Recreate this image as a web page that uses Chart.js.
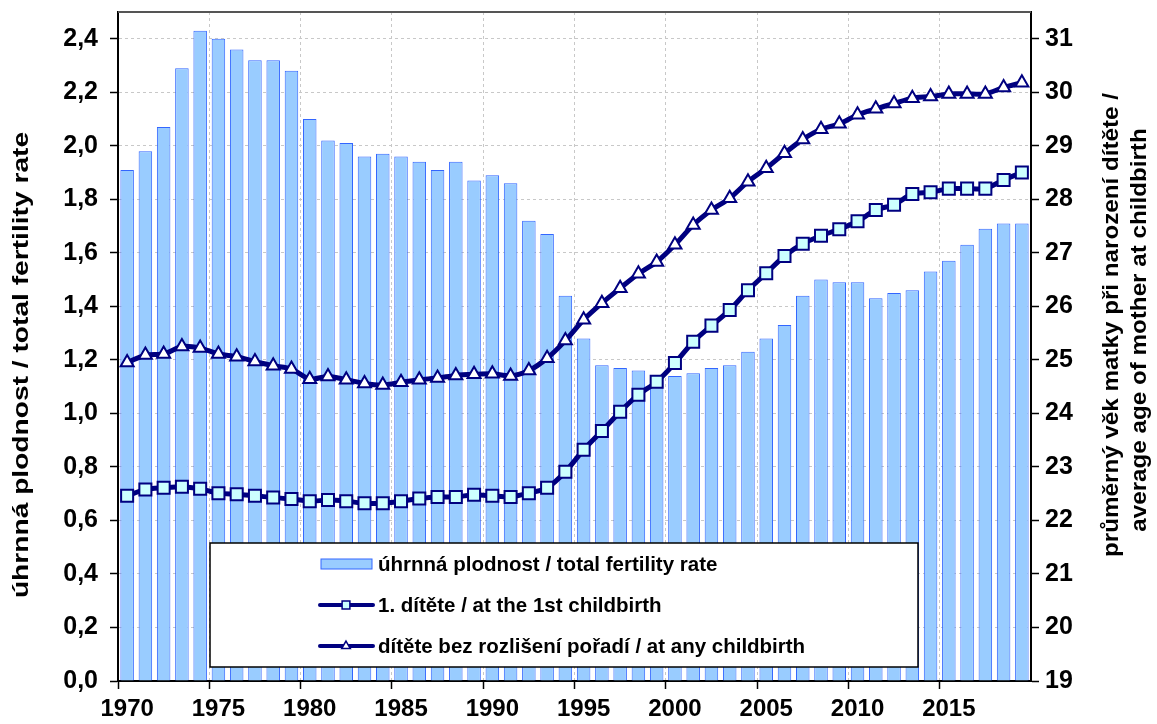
<!DOCTYPE html>
<html>
<head>
<meta charset="utf-8">
<script src="https://cdn.jsdelivr.net/npm/chart.js@4"></script>
<style>
  body { margin: 0; background: #fff; }
  #wrap { width: 1157px; height: 724px; }
</style>
</head>
<body>
<div id="wrap"><canvas id="myChart" width="1157" height="724"></canvas></div>
<script>
const years = ['1970','1971','1972','1973','1974','1975','1976','1977','1978','1979',
  '1980','1981','1982','1983','1984','1985','1986','1987','1988','1989',
  '1990','1991','1992','1993','1994','1995','1996','1997','1998','1999',
  '2000','2001','2002','2003','2004','2005','2006','2007','2008','2009',
  '2010','2011','2012','2013','2014','2015','2016','2017','2018','2019'];

// úhrnná plodnost / total fertility rate
const tfr = [1.91, 1.98, 2.07, 2.29, 2.43, 2.40, 2.36, 2.32, 2.32, 2.28,
  2.10, 2.02, 2.01, 1.96, 1.97, 1.96, 1.94, 1.91, 1.94, 1.87,
  1.89, 1.86, 1.72, 1.67, 1.44, 1.28, 1.18, 1.17, 1.16, 1.13,
  1.14, 1.15, 1.17, 1.18, 1.23, 1.28, 1.33, 1.44, 1.50, 1.49,
  1.49, 1.43, 1.45, 1.46, 1.53, 1.57, 1.63, 1.69, 1.71, 1.71];

// průměrný věk matky při narození 1. dítěte
const ageFirst = [22.46, 22.58, 22.61, 22.63, 22.59, 22.51, 22.49, 22.46, 22.43, 22.40,
  22.36, 22.38, 22.36, 22.32, 22.32, 22.36, 22.41, 22.44, 22.44, 22.48,
  22.46, 22.44, 22.51, 22.61, 22.91, 23.32, 23.67, 24.03, 24.35, 24.59,
  24.94, 25.34, 25.64, 25.93, 26.30, 26.62, 26.94, 27.17, 27.32, 27.44,
  27.59, 27.80, 27.90, 28.10, 28.13, 28.20, 28.20, 28.20, 28.36, 28.50];

// průměrný věk matky při narození dítěte bez rozlišení pořadí
const ageAny = [24.95, 25.09, 25.11, 25.25, 25.22, 25.11, 25.06, 24.97, 24.89, 24.83,
  24.64, 24.69, 24.63, 24.56, 24.53, 24.58, 24.63, 24.66, 24.71, 24.73,
  24.74, 24.70, 24.80, 25.03, 25.36, 25.75, 26.06, 26.34, 26.61, 26.83,
  27.15, 27.52, 27.80, 28.02, 28.33, 28.58, 28.86, 29.12, 29.31, 29.41,
  29.58, 29.69, 29.79, 29.89, 29.92, 29.97, 29.97, 29.97, 30.09, 30.18];

const leftTitle = 'úhrnná plodnost / total fertility rate';
const rightTitle = ['průměrný věk matky při narození dítěte /', 'average age of mother at childbirth'];

const FONT = "'Liberation Sans', Arial, sans-serif";
const navy = '#000080';
const gridGrey = '#c8c8c8';

// rotated text, stretched along its length like the original
function vText(ctx, text, x, y, stretch) {
  ctx.save();
  ctx.translate(x, y);
  ctx.rotate(-Math.PI / 2);
  ctx.scale(stretch, 1);
  ctx.fillText(text, 0, 0);
  ctx.restore();
}

// frame on top of the plot area + axis titles + legend box
const extras = {
  id: 'extras',
  afterDatasetsDraw(chart) {
    const ctx = chart.ctx;
    const a = chart.chartArea;
    ctx.save();
    ctx.strokeStyle = '#555';
    ctx.lineWidth = 2;
    ctx.beginPath();
    ctx.moveTo(a.left, a.top);
    ctx.lineTo(a.right, a.top);
    ctx.stroke();

    // legend
    const bx = 210, by = 543, bw = 708, bh = 124;
    ctx.fillStyle = '#fff';
    ctx.fillRect(bx, by, bw, bh);
    ctx.strokeStyle = '#000';
    ctx.lineWidth = 1.5;
    ctx.strokeRect(bx, by, bw, bh);

    const rows = [564, 605, 646];
    ctx.font = 'bold 20.5px ' + FONT;
    ctx.textBaseline = 'middle';
    chart.data.datasets.forEach((ds, i) => {
      const y = rows[i];
      if (ds.type === 'bar') {
        ctx.fillStyle = ds.backgroundColor;
        ctx.fillRect(321, y - 5, 51, 10);
        ctx.strokeStyle = ds.borderColor;
        ctx.lineWidth = 1;
        ctx.strokeRect(321, y - 5, 51, 10);
      } else {
        ctx.strokeStyle = ds.borderColor;
        ctx.lineWidth = 4;
        ctx.lineCap = 'round';
        ctx.beginPath();
        ctx.moveTo(320, y);
        ctx.lineTo(373, y);
        ctx.stroke();
        ctx.fillStyle = ds.pointBackgroundColor;
        ctx.strokeStyle = ds.pointBorderColor;
        ctx.lineWidth = 1.5;
        Chart.helpers.drawPoint(ctx, {pointStyle: ds.pointStyle, radius: ds.pointStyle === 'rect' ? 5.5 : 5, borderWidth: 1.5}, 346, y);
      }
      ctx.fillStyle = '#000';
      ctx.textAlign = 'left';
      ctx.fillText(ds.label, 378, y + 1);
    });

    // axis titles, reading bottom to top
    ctx.fillStyle = '#000';
    ctx.textAlign = 'center';
    ctx.font = 'bold 22px ' + FONT;
    vText(ctx, leftTitle, 22, 365, 1.28);
    vText(ctx, rightTitle[0], 1112, 325, 1.1);
    vText(ctx, rightTitle[1], 1140, 330, 1.1);
    ctx.restore();
  }
};

const ctx = document.getElementById('myChart').getContext('2d');
const myChart = new Chart(ctx, {
  data: {
    labels: years,
    datasets: [{
      type: 'bar',
      label: 'úhrnná plodnost / total fertility rate',
      data: tfr,
      yAxisID: 'y',
      backgroundColor: '#99ccff',
      borderColor: '#3366ff',
      borderWidth: 1,
      barPercentage: 0.74,
      categoryPercentage: 1,
      order: 3
    }, {
      type: 'line',
      label: '1. dítěte / at the 1st childbirth',
      data: ageFirst,
      yAxisID: 'y1',
      borderColor: navy,
      borderWidth: 5,
      tension: 0.25,
      pointStyle: 'rect',
      pointRadius: 8.5,
      pointBackgroundColor: '#ccffff',
      pointBorderColor: navy,
      pointBorderWidth: 2,
      order: 2
    }, {
      type: 'line',
      label: 'dítěte bez rozlišení pořadí / at any childbirth',
      data: ageAny,
      yAxisID: 'y1',
      borderColor: navy,
      borderWidth: 5,
      tension: 0.25,
      pointStyle: 'triangle',
      pointRadius: 7.5,
      pointBackgroundColor: '#ffffff',
      pointBorderColor: navy,
      pointBorderWidth: 2,
      order: 1
    }]
  },
  options: {
    responsive: false,
    animation: false,
    layout: { padding: { top: 12, left: 0, right: 0, bottom: 0 } },
    plugins: {
      legend: { display: false },
      tooltip: { enabled: false }
    },
    scales: {
      x: {
        offset: true,
        afterFit: (s) => { s.height = 43; s.paddingLeft = 0; s.paddingRight = 0; },
        grid: {
          offset: true,
          color: (c) => c.index % 5 === 0 ? gridGrey : 'transparent',
          tickColor: (c) => c.index % 5 === 0 ? '#000' : 'transparent',
          tickLength: 8,
          tickWidth: 1.5
        },
        border: { color: '#000', width: 2, dash: [3, 3] },
        ticks: {
          autoSkip: false,
          maxRotation: 0,
          padding: 6,
          color: '#000',
          font: { family: FONT, size: 24, weight: 'bold' },
          callback: function (v, i) { return i % 5 === 0 ? years[i] : ''; }
        }
      },
      y: {
        position: 'left',
        min: 0,
        max: 2.5,
        afterFit: (s) => { s.width = 118; s.paddingTop = 0; s.paddingBottom = 0; },
        grid: { color: gridGrey, tickColor: '#000', tickLength: 8, tickWidth: 1.5 },
        border: { color: '#000', width: 2, dash: [3, 3] },
        ticks: {
          stepSize: 0.2,
          includeBounds: false,
          padding: 12,
          color: '#000',
          font: { family: FONT, size: 25, weight: 'bold' },
          callback: (v) => v.toFixed(1).replace('.', ',')
        }
      },
      y1: {
        position: 'right',
        min: 19,
        max: 31.5,
        afterFit: (s) => { s.width = 126; s.paddingTop = 0; s.paddingBottom = 0; },
        grid: { drawOnChartArea: false, tickColor: '#000', tickLength: 8, tickWidth: 1.5 },
        border: { color: '#000', width: 2 },
        ticks: {
          stepSize: 1,
          includeBounds: false,
          padding: 6,
          color: '#000',
          font: { family: FONT, size: 25, weight: 'bold' }
        }
      }
    }
  },
  plugins: [extras]
});
</script>
</body>
</html>
